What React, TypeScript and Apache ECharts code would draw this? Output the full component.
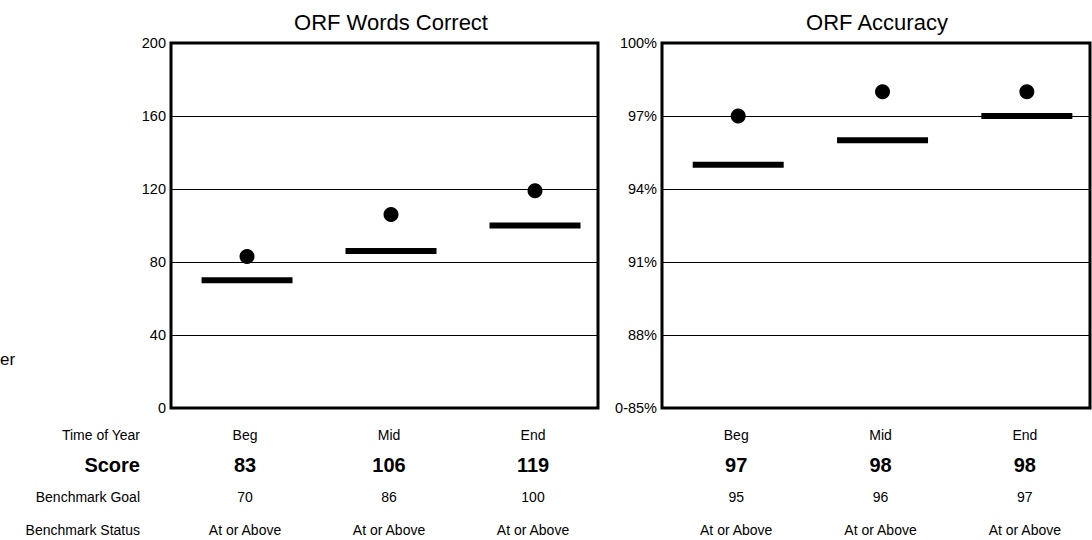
import React, { useEffect, useRef } from "react";
import * as echarts from "echarts";

const categories = ["Beg", "Mid", "End"];
const wcScores = [83, 106, 119];
const wcGoals = [70, 86, 100];
const wcStatus = ["At or Above", "At or Above", "At or Above"];
const accScores = [97, 98, 98];
const accGoals = [95, 96, 97];
const accStatus = ["At or Above", "At or Above", "At or Above"];
const rowLabels = ["Time of Year", "Score", "Benchmark Goal", "Benchmark Status"];
const accBase = 85;

const FONT = "Liberation Sans, Arial, Helvetica, sans-serif";

export default function App() {
  const ref = useRef<HTMLDivElement>(null);
  useEffect(() => {
    const chart = echarts.init(ref.current!, null, { renderer: "svg" });
    const xAx = (gi: number) => ({
      type: "value",
      gridIndex: gi,
      min: -0.528,
      max: 2.4375,
      show: false,
    });
    const grid = (left: number, width: number) => ({
      left,
      top: 43,
      width,
      height: 365,
      show: true,
      borderColor: "#000",
      borderWidth: 3,
      backgroundColor: "transparent",
    });
    const splitLine = { show: true, lineStyle: { color: "#000", width: 1 } };
    const axisLabel = { color: "#000", fontSize: 14.5, fontFamily: FONT, margin: 5 };
    const mark = { color: "#000", opacity: 1 };
    chart.setOption({
      animation: false,
      grid: [grid(171, 427), grid(662, 428)],
      xAxis: [xAx(0), xAx(1)],
      yAxis: [
        {
          type: "value",
          gridIndex: 0,
          min: 0,
          max: 200,
          interval: 40,
          axisLine: { show: false },
          axisTick: { show: false },
          splitLine,
          axisLabel,
        },
        {
          type: "value",
          gridIndex: 1,
          min: 0,
          max: 15,
          interval: 3,
          axisLine: { show: false },
          axisTick: { show: false },
          splitLine,
          axisLabel: {
            ...axisLabel,
            formatter: (v: number) => (v === 0 ? `0-${accBase}%` : `${v + accBase}%`),
          },
        },
      ],
      series: [
        {
          type: "scatter",
          xAxisIndex: 0,
          yAxisIndex: 0,
          symbol: "rect",
          symbolSize: [91, 6],
          itemStyle: mark,
          data: wcGoals.map((v, i) => [i, v]),
          z: 3,
        },
        {
          type: "scatter",
          xAxisIndex: 0,
          yAxisIndex: 0,
          symbol: "circle",
          symbolSize: 15,
          itemStyle: mark,
          data: wcScores.map((v, i) => [i, v]),
          z: 4,
        },
        {
          type: "scatter",
          xAxisIndex: 1,
          yAxisIndex: 1,
          symbol: "rect",
          symbolSize: [91, 6],
          itemStyle: mark,
          data: accGoals.map((v, i) => [i, v - accBase]),
          z: 3,
        },
        {
          type: "scatter",
          xAxisIndex: 1,
          yAxisIndex: 1,
          symbol: "circle",
          symbolSize: 15,
          itemStyle: mark,
          data: accScores.map((v, i) => [i, v - accBase]),
          z: 4,
        },
      ],
    });

    const rowY = [435, 465, 497, 530];
    const txt = (x: number, y: number, text: string, opts: any = {}) => ({
      type: "text",
      x,
      y,
      silent: true,
      style: {
        text,
        fill: "#000",
        font: `${opts.bold ? "bold " : ""}${opts.size || 14}px ${FONT}`,
        textAlign: opts.align || "center",
        textVerticalAlign: "middle",
      },
    });
    const els: any[] = [];
    els.push(txt(391, 22, "ORF Words Correct", { size: 22 }));
    els.push(txt(877, 22, "ORF Accuracy", { size: 22 }));
    els.push(txt(0, 359, "er", { size: 17, align: "left" }));
    rowLabels.forEach((l, r) => {
      els.push(txt(140, rowY[r], l, r === 1 ? { bold: true, size: 20, align: "right" } : { align: "right" }));
    });
    const addCols = (gi: number, scores: number[], goals: number[], status: string[]) => {
      categories.forEach((c, i) => {
        const x = (chart.convertToPixel({ xAxisIndex: gi }, i) as number) - 2;
        els.push(txt(x, rowY[0], c));
        els.push(txt(x, rowY[1], String(scores[i]), { bold: true, size: 20 }));
        els.push(txt(x, rowY[2], String(goals[i])));
        els.push(txt(x, rowY[3], status[i]));
      });
    };
    addCols(0, wcScores, wcGoals, wcStatus);
    addCols(1, accScores, accGoals, accStatus);
    chart.setOption({ graphic: { elements: els } });
    return () => chart.dispose();
  }, []);
  return (
    <div
      ref={ref}
      style={{ position: "fixed", left: 0, top: 0, width: 1092, height: 540, background: "#fff" }}
    />
  );
}
